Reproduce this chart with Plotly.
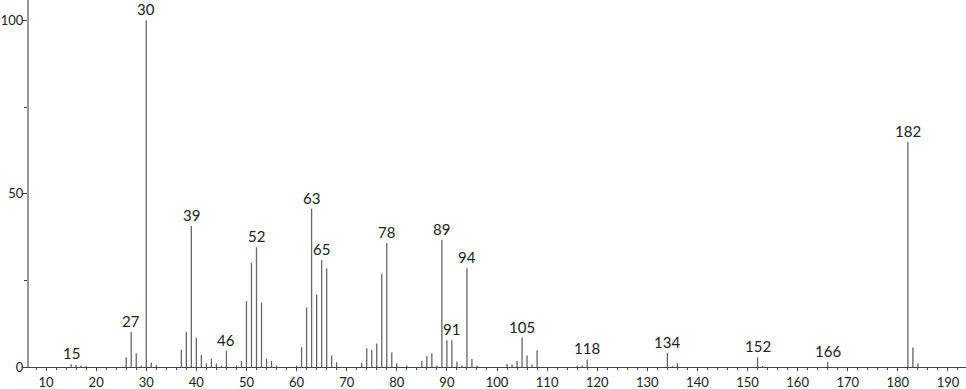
import plotly.graph_objects as go

mz = [15, 16, 17, 18, 26, 27, 28, 29, 30, 31, 32, 37, 38, 39, 40, 41, 42, 43, 44, 45,
      46, 48, 49, 50, 51, 52, 53, 54, 55, 56, 60, 61, 62, 63, 64, 65, 66, 67, 68,
      73, 74, 75, 76, 77, 78, 79, 80, 82, 85, 86, 87, 88, 89, 90, 91, 92, 93, 94, 95, 96,
      102, 103, 104, 105, 106, 107, 108, 116, 117, 118, 134, 135, 136,
      152, 153, 166, 182, 183, 184]
intensity = [0.8, 0.6, 0.4, 0.3, 2.8, 10.2, 4.0, 0.4, 100, 1.3, 0.5, 5.0, 10.2, 40.7, 8.5, 3.5, 1.0, 2.4, 1.0, 0.4,
             4.7, 0.4, 1.8, 19.0, 30.0, 34.5, 18.6, 2.4, 1.8, 0.4, 0.4, 5.7, 17.2, 45.7, 20.9, 30.9, 28.5, 3.3, 1.4,
             1.2, 5.4, 5.0, 6.8, 26.9, 35.8, 4.2, 1.0, 0.4, 1.8, 3.2, 4.0, 0.4, 36.7, 7.7, 7.7, 1.6, 0.4, 28.5, 2.3, 0.4,
             0.9, 0.7, 1.7, 8.5, 3.3, 0.7, 4.8, 0.3, 0.4, 2.2, 4.1, 0.3, 1.1,
             2.8, 0.3, 1.5, 65.0, 5.6, 1.0]
labeled = [15, 27, 30, 39, 46, 52, 63, 65, 78, 89, 91, 94, 105, 118, 134, 152, 166, 182]

xs, ys = [], []
for m, v in zip(mz, intensity):
    xs += [m, m, None]
    ys += [0, v, None]

fig = go.Figure()
fig.add_trace(go.Scatter(x=xs, y=ys, mode="lines",
                         line=dict(color="#666666", width=1.3),
                         hoverinfo="skip", showlegend=False))

lookup = dict(zip(mz, intensity))
for m in labeled:
    fig.add_annotation(x=m, y=lookup[m], text=str(m), showarrow=False,
                       xref="x", yref="y", yanchor="bottom", yshift=0,
                       font=dict(size=15, color="#222222", family="Lato"))

fig.update_layout(
    width=966, height=389,
    margin=dict(l=29, r=0, t=0, b=22),
    plot_bgcolor="white", paper_bgcolor="white",
    font=dict(family="Lato", size=13, color="#222222"),
    showlegend=False,
)
fig.update_xaxes(range=[6.6, 193.6], showgrid=False, zeroline=False, automargin=False,
                 showline=True, linecolor="#444444", linewidth=1,
                 tickmode="linear", tick0=10, dtick=10,
                 ticks="outside", ticklen=3, tickcolor="#444444",
                 minor=dict(dtick=2, tick0=10, ticks="outside", ticklen=2, tickcolor="#444444"),
                 tickfont=dict(size=13, color="#222222", family="Lato"))
fig.update_yaxes(range=[0, 105.9], showgrid=False, zeroline=False, automargin=False,
                 showline=True, linecolor="#999999", linewidth=2,
                 tickmode="array", tickvals=[0, 50, 100], ticktext=["0", "50", "100"],
                 ticks="outside", ticklen=5, tickcolor="#444444", ticklabelstandoff=-4,
                 minor=dict(tickvals=[25, 75], ticks="outside", ticklen=3, tickcolor="#444444"),
                 tickfont=dict(size=13, color="#222222", family="Lato"))

fig.write_html("out.html")
